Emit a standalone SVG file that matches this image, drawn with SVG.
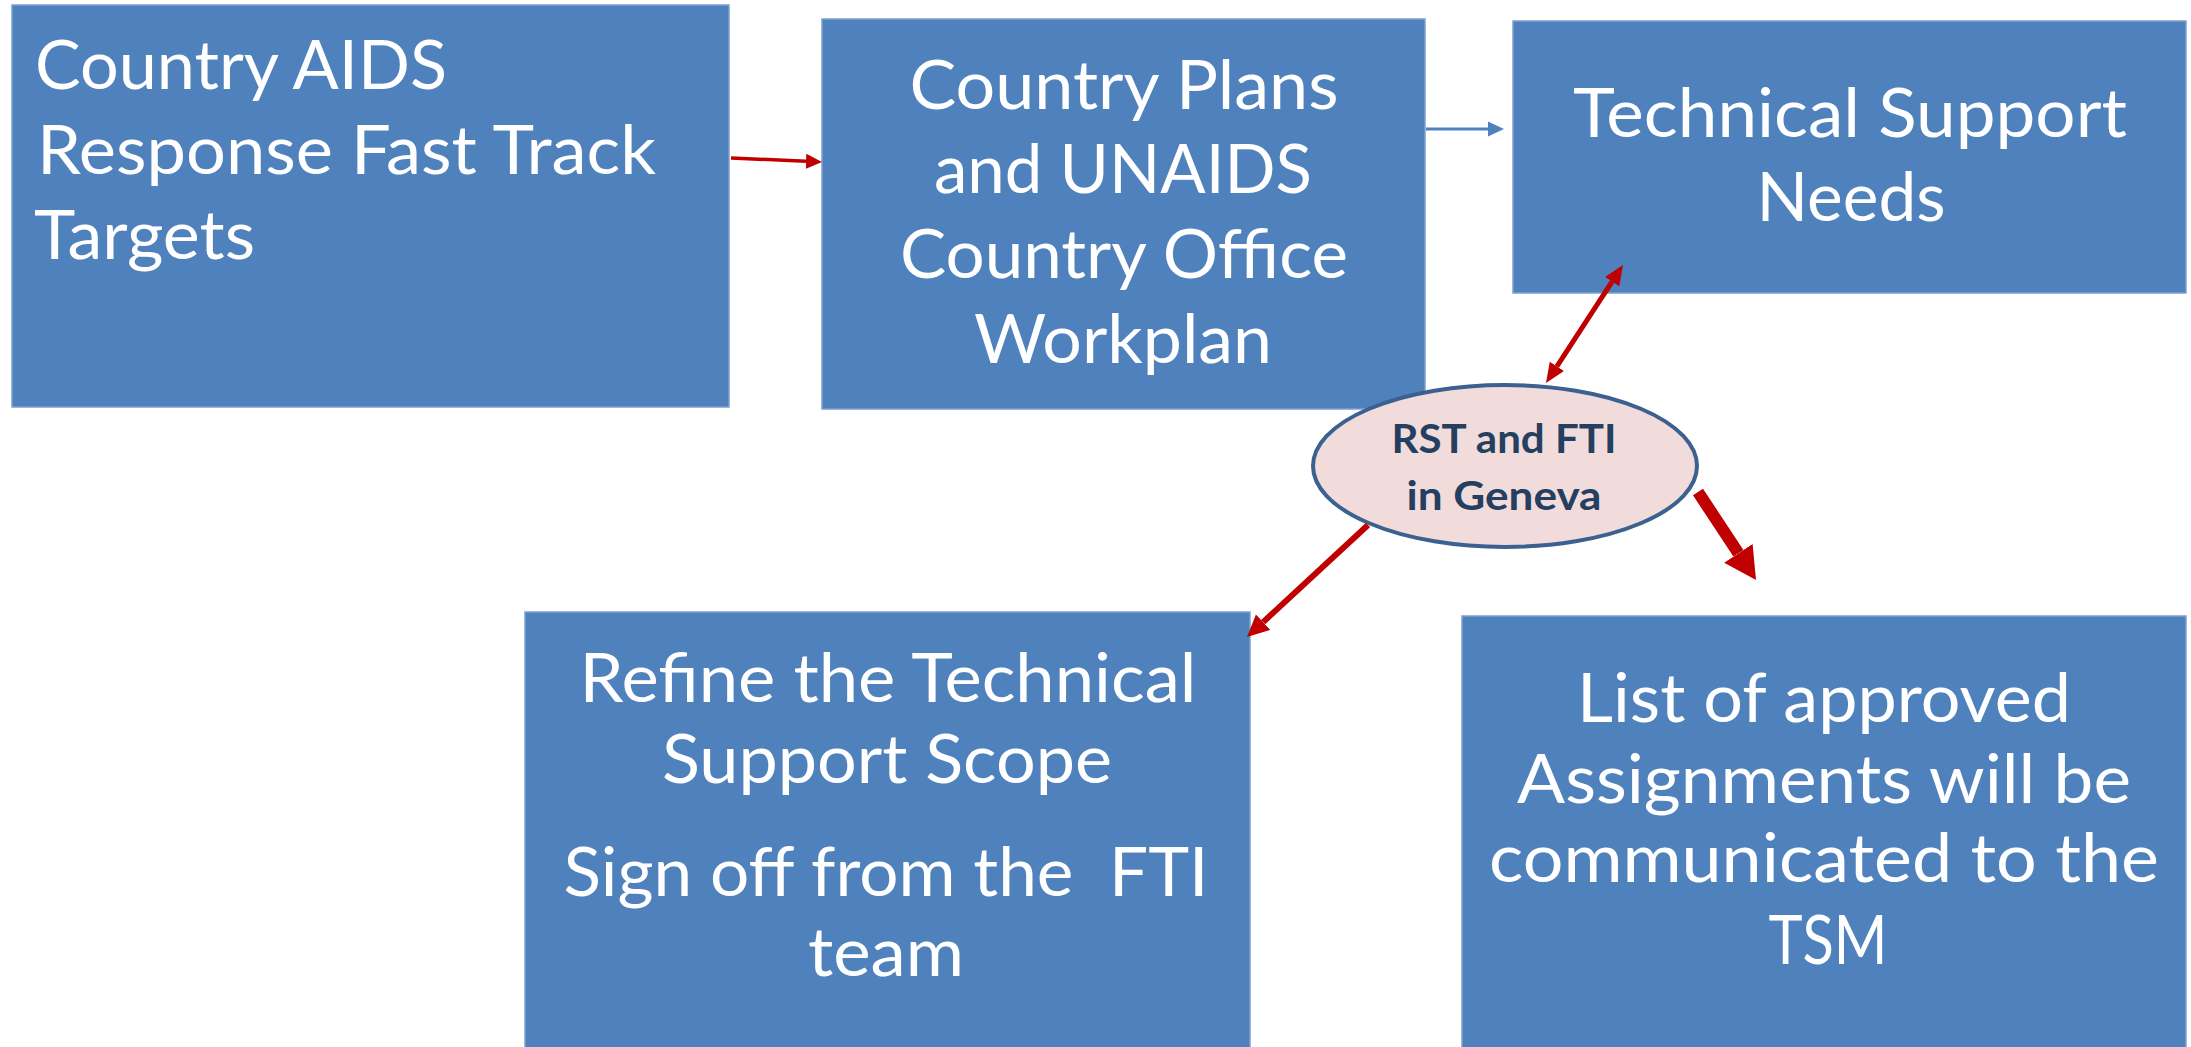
<svg xmlns="http://www.w3.org/2000/svg" width="2191" height="1047" viewBox="0 0 2191 1047">
<style>
.box{fill:#4F81BD;stroke:#7EA1D1;stroke-width:1.5}
.t{font-family:Lato,"Open Sans","Liberation Sans",sans-serif;font-size:68px;fill:#FFFFFF}
.c{text-anchor:middle}
.et{font-family:Lato,"Open Sans","Liberation Sans",sans-serif;font-size:40px;font-weight:bold;fill:#243F60;text-anchor:middle}
.red{stroke:#C00000;fill:none}
</style>
<defs>
<marker id="hRed16" markerUnits="userSpaceOnUse" markerWidth="16" markerHeight="16" viewBox="0 -8 16 16" refX="0" refY="0" orient="auto"><path d="M0,-7.5 L16,0 L0,7.5 Z" fill="#C00000"/></marker>
<marker id="hBlue16" markerUnits="userSpaceOnUse" markerWidth="16" markerHeight="16" viewBox="0 -8 16 16" refX="0" refY="0" orient="auto"><path d="M0,-7.5 L16,0 L0,7.5 Z" fill="#4F81BD"/></marker>
<marker id="hRed20" markerUnits="userSpaceOnUse" markerWidth="20" markerHeight="18" viewBox="0 -9 20 18" refX="0" refY="0" orient="auto-start-reverse"><path d="M0,-8.5 L20,0 L0,8.5 Z" fill="#C00000"/></marker>
<marker id="hRed22" markerUnits="userSpaceOnUse" markerWidth="22" markerHeight="22" viewBox="0 -11 22 22" refX="0" refY="0" orient="auto"><path d="M0,-10.5 L22,0 L0,10.5 Z" fill="#C00000"/></marker>
<marker id="hRed32" markerUnits="userSpaceOnUse" markerWidth="32" markerHeight="36" viewBox="0 -18 32 36" refX="0" refY="0" orient="auto"><path d="M0,-17 L32,0 L0,17 Z" fill="#C00000"/></marker>
</defs>
<rect width="2191" height="1047" fill="#FFFFFF"/>
<g id="n1">
<rect class="box" x="12" y="5" width="717" height="402"/>
<text class="t" x="35" y="89" textLength="412" lengthAdjust="spacingAndGlyphs">Country AIDS</text>
<text class="t" x="37" y="174" textLength="619" lengthAdjust="spacingAndGlyphs">Response Fast Track</text>
<text class="t" x="34" y="259" textLength="221" lengthAdjust="spacingAndGlyphs">Targets</text>
</g>
<g id="n2">
<rect class="box" x="822" y="19" width="603" height="390"/>
<text class="t c" x="1124" y="109" textLength="429" lengthAdjust="spacingAndGlyphs">Country Plans</text>
<text class="t c" x="1123" y="193" textLength="378" lengthAdjust="spacingAndGlyphs">and UNAIDS</text>
<text class="t c" x="1124" y="278" textLength="448" lengthAdjust="spacingAndGlyphs">Country Office</text>
<text class="t c" x="1123" y="363" textLength="298" lengthAdjust="spacingAndGlyphs">Workplan</text>
</g>
<g id="n3">
<rect class="box" x="1513" y="21" width="673" height="272"/>
<text class="t c" x="1850" y="137" textLength="554" lengthAdjust="spacingAndGlyphs">Technical Support</text>
<text class="t c" x="1851" y="221" textLength="189" lengthAdjust="spacingAndGlyphs">Needs</text>
</g>
<g id="n4">
<rect class="box" x="525" y="612" width="725" height="440"/>
<text class="t c" x="888" y="702" textLength="617" lengthAdjust="spacingAndGlyphs">Refine the Technical</text>
<text class="t c" x="887" y="783" textLength="450" lengthAdjust="spacingAndGlyphs">Support Scope</text>
<text class="t c" x="886" y="896" textLength="645" lengthAdjust="spacingAndGlyphs" xml:space="preserve">Sign off from the  FTI</text>
<text class="t c" x="886" y="976" textLength="156" lengthAdjust="spacingAndGlyphs">team</text>
</g>
<g id="n5">
<rect class="box" x="1462" y="616" width="724" height="436"/>
<text class="t c" x="1824" y="722" textLength="494" lengthAdjust="spacingAndGlyphs">List of approved</text>
<text class="t c" x="1824" y="803" textLength="614" lengthAdjust="spacingAndGlyphs">Assignments will be</text>
<text class="t c" x="1824" y="882" textLength="670" lengthAdjust="spacingAndGlyphs">communicated to the</text>
<text class="t c" x="1828" y="964" textLength="119" lengthAdjust="spacingAndGlyphs">TSM</text>
</g>
<g id="n6">
<ellipse cx="1505" cy="466" rx="192" ry="81" fill="#F2DCDB" stroke="#3B6190" stroke-width="4"/>
<text class="et" x="1504" y="453" textLength="225" lengthAdjust="spacingAndGlyphs">RST and FTI</text>
<text class="et" x="1504" y="510" textLength="195" lengthAdjust="spacingAndGlyphs">in Geneva</text>
</g>
<g id="connectors">
<path class="red" d="M731,158 L806,161.3" stroke-width="3.5" marker-end="url(#hRed16)"/>
<path d="M1426,129 L1488,129" stroke="#4F81BD" stroke-width="3" fill="none" marker-end="url(#hBlue16)"/>
<path class="red" d="M1556.9,366.3 L1612.1,281.7" stroke-width="5" marker-start="url(#hRed20)" marker-end="url(#hRed20)"/>
<path class="red" d="M1368,525 L1263.1,622.1" stroke-width="6" marker-end="url(#hRed22)"/>
<path class="red" d="M1698,492 L1738.4,553.3" stroke-width="12" marker-end="url(#hRed32)"/>
</g>
</svg>
